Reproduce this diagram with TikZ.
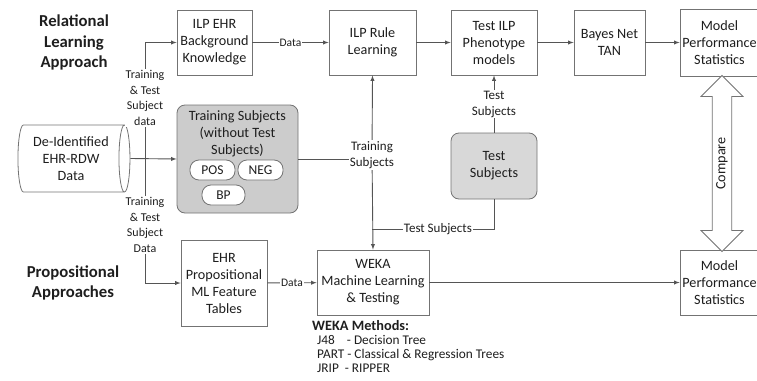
\documentclass[tikz,border=0pt]{standalone}
\usepackage{fontspec}
\setmainfont{Carlito}
\usetikzlibrary{shapes.geometric,shapes.arrows}
\definecolor{linegray}{RGB}{85,85,85}
\definecolor{boxgray}{RGB}{115,115,115}
\definecolor{txtgray}{RGB}{30,30,30}
\definecolor{grpgray}{RGB}{204,204,204}
\definecolor{tsgray}{RGB}{216,216,216}
\begin{document}
\begin{tikzpicture}
  [x=1pt,y=-1pt,>=latex,
   every node/.style={text=txtgray,font=\fontsize{14.2}{17}\selectfont,align=center},
   box/.style={draw=boxgray,fill=white,inner sep=1pt,line width=0.8pt},
   grp/.style={box,fill=grpgray,rounded corners=8pt},
   pill/.style={box,rounded corners=9pt,minimum height=20pt,inner sep=0pt,font=\fontsize{13.5}{16}\selectfont},
   lbl/.style={fill=white,inner sep=1pt,font=\fontsize{13}{16}\selectfont},
   vlbl/.style={lbl,font=\fontsize{12}{15.7}\selectfont},
   dlbl/.style={lbl,font=\fontsize{11.5}{14}\selectfont},
   title/.style={font=\fontsize{16.7}{20.5}\selectfont\bfseries},
   conn/.style={draw=linegray,line width=0.9pt}]
  \clip (0,0) rectangle (757,380);

  % titles
  \node[title] (rel) at (74,42.5) {Relational\\Learning\\Approach};
  \node[title] (prop) at (73,283) {Propositional\\Approaches};

  % source data
  \node (cyl) [cylinder,draw=boxgray,line width=0.8pt,shape aspect=0.25,
    minimum height=112pt,minimum width=67pt,inner sep=0pt] at (71,158.5)
    {De-Identified\\EHR-RDW\\Data};

  % relational row
  \node (bk) [box,minimum width=75pt,minimum height=65pt] at (214.5,42.5) {ILP EHR\\Background\\Knowledge};
  \node (rule) [box,minimum width=87pt,minimum height=65pt] at (372.5,42.5) {ILP Rule\\Learning};
  \node (testilp) [box,minimum width=86pt,minimum height=65pt] at (494,42.5) {Test ILP\\Phenotype\\models};
  \node (bayes) [box,minimum width=71pt,minimum height=65pt] at (609.5,42.5) {Bayes Net\\TAN};
  \node (statsr) [box,minimum width=79pt,minimum height=67pt] at (719.5,42.5) {Model\\Performance\\Statistics};

  % subjects
  \node (train) [grp,minimum width=121pt,minimum height=108pt] at (237.5,159) {};
  \node (traintxt) at (237.5,133.5) {Training Subjects\\(without Test\\Subjects)};
  \node (pos) [pill,minimum width=45pt] at (212.5,170) {POS};
  \node (neg) [pill,minimum width=45pt] at (260.5,170) {NEG};
  \node (bp) [pill,minimum width=43pt] at (223.5,195) {BP};
  \node (testsub) [box,fill=tsgray,rounded corners=8pt,minimum width=86pt,minimum height=66pt] at (494,166) {Test\\Subjects};

  % propositional row
  \node (ehr) [box,minimum width=86pt,minimum height=86pt] at (224,283) {EHR\\Propositional\\ML Feature\\Tables};
  \node (weka) [box,minimum width=112pt,minimum height=65pt] at (373,282.5) {WEKA\\Machine Learning\\\& Testing};
  \node (statsp) [box,minimum width=79pt,minimum height=65pt] at (719.5,282.5) {Model\\Performance\\Statistics};
  \node (methods) [anchor=north west,align=left,inner sep=0pt,font=\fontsize{13.3}{14.2}\selectfont] at (312,320)
    {{\bfseries\fontsize{14.3}{14.2}\selectfont WEKA Methods:}\\
     \hspace{5pt}J48\hspace{12pt}- Decision Tree\\
     \hspace{5pt}PART - Classical \& Regression Trees\\
     \hspace{5pt}JRIP\hspace{6pt}- RIPPER};

  \node (cmp) [double arrow,draw=boxgray,fill=white,line width=0.8pt,rotate=90,
    minimum height=176pt,minimum width=42pt,double arrow head extend=11pt,
    double arrow head indent=0pt,inner sep=3.5pt] at (722,163.5) {Compare};

  % connectors
  \coordinate (split) at (145,158);
  \coordinate (tj) at (372,155);
  \coordinate (tj2) at (372,229);
  \draw[conn,->] (split) |- (bk.west);
  \draw[conn,->] (split) |- (ehr.west);
  \draw[conn,->] (cyl.east) -- (train.west);
  \draw[conn,->] (bk) -- node[dlbl] {Data} (rule);
  \draw[conn,->] (ehr) -- node[dlbl] {Data} (weka);
  \foreach \from/\to in {rule/testilp, testilp/bayes, bayes/statsr, weka/statsp}
    \draw[conn,->] (\from) -- (\to);
  \draw[conn,->] (tj) -- (rule.south);
  \draw[conn,->] (tj) -- (weka.north);
  \draw[conn] (train.east) -- (train.east -| tj);
  \draw[conn,->] (testsub) -- node[lbl] {Test\\Subjects} (testilp);
  \draw[conn] (testsub.south) |- node[lbl,pos=0.73] {Test Subjects} (tj2);
  \node[vlbl] at (145,98) {Training\\\& Test\\Subject\\data};
  \node[vlbl] at (145,225) {Training\\\& Test\\Subject\\Data};
  \node[lbl] at (tj) {Training\\Subjects};
\end{tikzpicture}
\end{document}
